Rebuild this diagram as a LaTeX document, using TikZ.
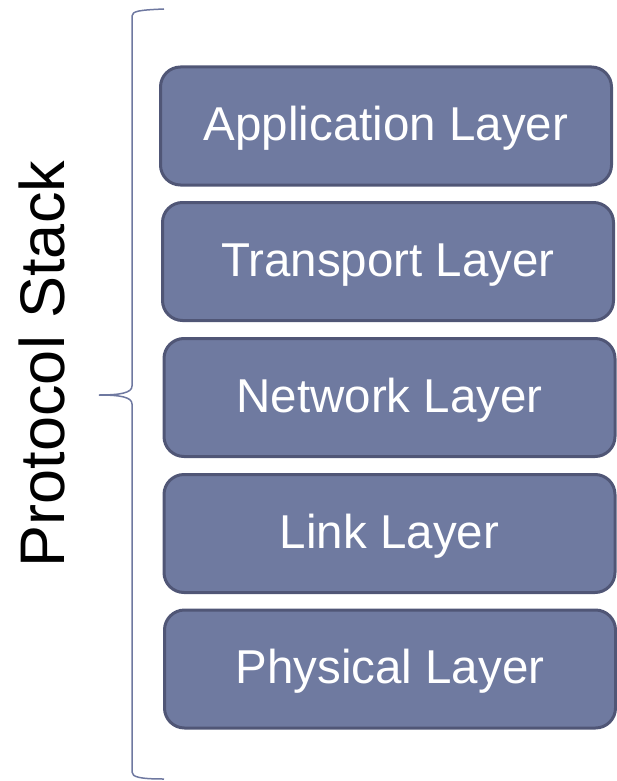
\documentclass[tikz,border=0pt]{standalone}
\usepackage{fontspec}
\setmainfont{Liberation Sans}
\definecolor{layerfill}{RGB}{111,122,160}
\definecolor{layerline}{RGB}{80,86,118}
\definecolor{bracecol}{RGB}{110,120,160}
\tikzset{
  layerbox/.style={draw=layerline,line width=3pt,fill=layerfill,rounded corners=20pt,
    minimum width=451pt,minimum height=118pt,inner sep=0pt,text=white,
    text height=29pt,text depth=0pt,
    font=\fontsize{47.5}{57}\selectfont},
}
\begin{document}
\begin{tikzpicture}[x=1pt,y=-1pt]
\useasboundingbox (0,0) rectangle (617,781);
\node[layerbox] (app) at (386,126) {Application Layer};
\node[layerbox] (trans) at (388,261.5) {Transport Layer};
\node[layerbox] (net) at (389.5,397.5) {Network Layer};
\node[layerbox] (link) at (389.5,533.5) {Link Layer};
\node[layerbox] (phys) at (390,669) {Physical Layer};
% the brace round the stack
\draw[bracecol,line width=1.5pt] (164,9) .. controls (140,10) and (132,11) .. (132,16)
        -- (132,386) .. controls (132,393) and (120,395) .. (99,395)
        .. controls (120,395) and (132,397) .. (132,404)
        -- (132,772) .. controls (132,777) and (140,779) .. (164,779);
\node[rotate=90,inner sep=0pt,font=\fontsize{63}{75}\selectfont] (stacklbl) at (41.5,364) {Protocol Stack};
\end{tikzpicture}
\end{document}
